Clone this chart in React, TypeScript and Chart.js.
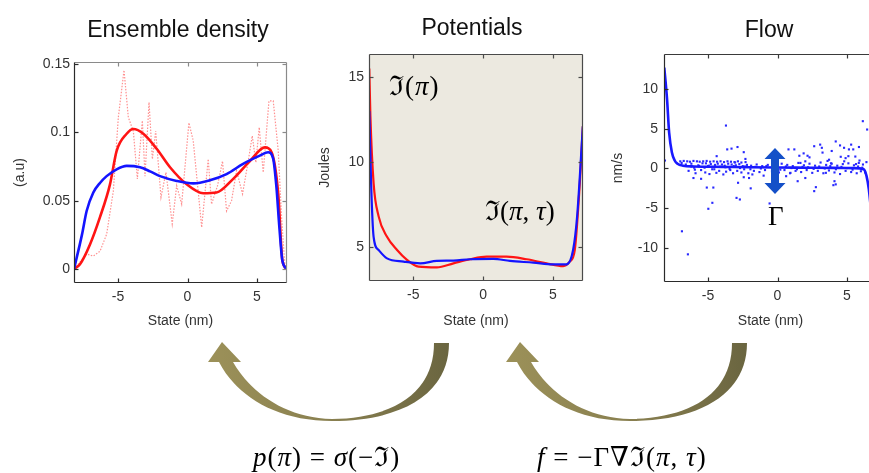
import React, { useEffect, useRef } from 'react';
import { Chart, registerables } from 'chart.js';

Chart.register(...registerables);
Chart.defaults.font.family = "'Liberation Sans', Arial, sans-serif";

// ---------- shared axis ----------
const X_MIN = -8.17;
const X_MAX = 7.16;
const xTicks = [-5, 0, 5];
const xTickLabels = ['-5', '0', '5'];
const xAxisTitle = 'State (nm)';

// ---------- Ensemble density ----------
const densTitle = 'Ensemble density';
const densYTitle = '(a.u)';
const densYTicks = [0, 0.05, 0.1, 0.15];
const densYTickLabels = ['0', '0.05', '0.1', '0.15'];
const densBlueX = [-8.17, -7.6, -7.26, -6.78, -6.3, -5.82, -5.1, -4.38, -3.42, -2.7, -1.98, -0.78, 0.42, 1.61, 2.81, 4.0, 5.2, 5.8, 6.16, 6.4, 6.6, 6.83, 7.16];
const densBlueY = [0, 0.025, 0.0425, 0.056, 0.063, 0.068, 0.073, 0.0755, 0.0745, 0.0715, 0.068, 0.0645, 0.0627, 0.065, 0.0695, 0.077, 0.083, 0.0855, 0.081, 0.06, 0.032, 0.006, 0];
const densRedX = [-8.17, -7.74, -7.02, -6.3, -5.58, -5.1, -4.38, -3.9, -3.18, -2.22, -1.26, -0.06, 1.13, 2.09, 3.29, 4.49, 5.57, 6.05, 6.53, 6.83, 7.16];
const densRedY = [0, 0.0035, 0.018, 0.038, 0.062, 0.0865, 0.099, 0.1025, 0.099, 0.088, 0.0745, 0.062, 0.0555, 0.056, 0.066, 0.079, 0.089, 0.0855, 0.055, 0.006, 0];
const densRawX = [-8.17, -7.26, -6.78, -6.3, -5.82, -5.34, -4.98, -4.57, -4.26, -3.9, -3.61, -3.25, -3.06, -2.77, -2.53, -2.29, -1.91, -1.55, -1.1, -0.78, -0.42, 0.1, 0.41, 1.02, 1.49, 1.73, 2.16, 2.52, 2.81, 3.17, 3.53, 3.96, 4.37, 4.66, 4.92, 5.16, 5.45, 5.86, 6.17, 6.53, 6.77, 7.0, 7.16];
const densRawY = [0, 0.011, 0.0095, 0.013, 0.0255, 0.057, 0.111, 0.1455, 0.111, 0.101, 0.066, 0.1085, 0.068, 0.122, 0.0805, 0.101, 0.0525, 0.0708, 0.033, 0.061, 0.0475, 0.107, 0.094, 0.0305, 0.0805, 0.0475, 0.061, 0.079, 0.0425, 0.05, 0.072, 0.055, 0.079, 0.0975, 0.078, 0.1037, 0.0707, 0.123, 0.123, 0.0865, 0.038, 0.0035, 0];

// ---------- Potentials ----------
const potTitle = 'Potentials';
const potYTitle = 'Joules';
const potYTicks = [5, 10, 15];
const potYTickLabels = ['5', '10', '15'];
const potRedX = [-8.15, -8.07, -7.84, -7.48, -6.88, -6.16, -5.45, -4.62, -3.31, -2.12, -0.93, 0.26, 1.69, 3.12, 4.55, 5.74, 6.21, 6.57, 6.93, 7.15];
const potRedY = [15.5, 12.7, 8.75, 6.8, 5.6, 4.82, 4.24, 3.84, 3.8, 4.04, 4.28, 4.43, 4.43, 4.28, 4.04, 3.88, 4.14, 4.82, 8.75, 12.1];
const potBlueX = [-8.15, -8.02, -7.84, -7.48, -6.88, -5.69, -4.5, -3.31, -2.12, -0.93, 0.74, 1.93, 3.6, 5.02, 5.98, 6.45, 6.74, 7.15];
const potBlueY = [13.0, 8.75, 5.6, 4.82, 4.33, 4.14, 4.04, 4.18, 4.2, 4.28, 4.3, 4.18, 4.08, 3.98, 3.98, 4.82, 6.8, 12.1];

// ---------- Flow ----------
const flowTitle = 'Flow';
const flowYTitle = 'nm/s';
const flowYTicks = [-10, -5, 0, 5, 10];
const flowYTickLabels = ['-10', '-5', '0', '5', '10'];
const flowLineX = [-8.15, -7.95, -7.8, -7.6, -7.4, -7.2, -6.8, -6.0, -4.0, -2.0, 0, 2.0, 4.0, 5.5, 6.2, 6.4, 6.57, 6.8, 7.16];
const flowLineY = [12.7, 8.7, 4.5, 2.0, 1.0, 0.6, 0.35, 0.25, 0.2, 0.15, 0.12, 0.1, 0.08, 0.05, -0.1, -0.9, -2.6, -6.5, -12.5];
const flowDotX = [
  -7.0, -6.75, -6.5, -6.3, -6.05, -5.8, -5.6, -5.35, -5.1, -4.85,
  -4.6, -4.35, -4.1, -3.85, -3.6, -3.35, -3.1, -2.85, -2.6, -2.3,
  -6.6, -6.4, -6.2, -6.0, -5.9, -5.7, -5.5, -5.4, -5.2, -5.0,
  -4.9, -4.8, -4.7, -4.5, -4.4, -4.3, -4.2, -4.0, -3.9, -3.8,
  -3.7, -3.55, -3.4, -3.3, -3.2, -3.0, -2.9, -2.75, -2.6, -2.5,
  -2.4, -2.2, -2.1, -1.9, -1.7, -1.5, -1.3, -1.1, -0.9, -0.7,
  -0.4, -0.2, 0.1, 0.3, 0.5, 0.7, 0.9, 1.1, 1.3, 1.5,
  1.7, 1.9, 2.1, 2.3, 2.5, 2.7, 2.9, 3.1, 3.3, 3.5,
  3.7, 3.9, 4.1, 4.3, 4.5, 4.7, 4.9, 5.1, 5.3, 5.5,
  5.7, 5.85, 6.0, 6.15, 6.3, 6.4, 2.0, 3.6, 4.8, 5.9,
  -6.88, -6.45, -4.98, -4.69, -3.71, -3.62, -3.31, -2.88, -2.43, -2.95,
  -2.71, -2.84, -4.62, -5.09, -4.38, -6.05, -5.5, -2.05, -1.81, -2.31,
  -0.57, 1.21, 1.57, 1.88, 2.16, 2.64, 2.76, 3.07, 3.19, 3.24,
  4.19, 4.79, 5.14, 5.45, 5.86, 6.14, 6.45, 4.02, 4.1, 1.45,
  0.62, 0.93, 2.0, 3.48, 4.55, 4.9, 5.6, 3.71, -8.1, -1.93,
  -2.43, 2.64, 0.79, 5.1, 4.19, 3.9, 4.5, 5.3, 2.3, -1.0,
  -6.2, -5.95, -5.65, -5.25, -4.95, -4.55, -4.15, -3.75, -3.45, -3.15,
  -2.7, -2.35, -1.95, -1.6, -1.2, -0.8, -0.3, 0.2, 0.6, 1.0,
  1.4, 1.8, 2.2, 2.6, 3.0, 3.4, 3.8, 4.2, 4.6, 5.0,
  5.4, 5.8, 6.1, -6.9, -5.15, -3.05, -0.05, 1.65, 3.85, 5.65
];
const flowDotY = [
  0.9, 0.95, 0.9, 0.85, 0.95, 0.9, 0.85, 0.9, 0.95, 0.85,
  0.9, 0.85, 0.9, 0.8, 0.9, 0.85, 0.8, 0.9, 0.75, 0.8,
  0.5, -0.3, 0.6, 0.1, -0.6, 0.4, -0.2, 0.65, -0.5, 0.3,
  -0.7, 0.55, -0.1, 0.45, -0.55, 0.6, -0.3, 0.5, -0.75, 0.35,
  -0.4, 0.6, -0.2, 0.5, -0.6, 0.4, -0.3, 0.55, -0.5, 0.3,
  -0.1, 0.45, -0.6, 0.35, -0.3, 0.5, -0.45, 0.3, -0.2, 0.45,
  -0.35, 0.4, -0.5, 0.6, -0.2, 0.45, -0.6, 0.3, -0.3, 0.7,
  -0.45, 0.4, -0.2, 0.6, -0.55, 0.35, -0.3, 0.75, -0.6, 0.45,
  -0.25, 0.6, -0.5, 0.35, -0.7, 0.55, -0.3, 0.65, -0.45, 0.4,
  -0.6, 0.7, -0.35, 0.5, -0.5, 0.8, 0.9, 0.95, 0.9, 1.0,
  -7.9, -10.8, -5.07, -4.32, 5.4, 2.4, 2.5, 2.7, 2.05, -3.7,
  -3.9, -1.8, -2.4, -2.4, 1.55, -1.2, -1.3, -1.2, -0.75, 1.2,
  -4.4, 2.4, 1.6, 1.9, 1.6, -2.85, -2.35, 3.0, 2.6, 2.0,
  3.4, 2.6, 2.4, 2.4, 2.7, 5.95, 4.9, -2.1, -1.6, -1.6,
  -0.97, -0.55, -1.2, -0.55, 1.47, 1.3, 1.5, 1.1, 1.0, -2.5,
  -1.1, 2.8, 2.4, 1.55, -2.0, 2.2, 2.9, 3.0, 1.4, -0.9,
  0.25, -0.15, 0.3, 0.1, 0.35, -0.1, 0.2, 0.15, -0.05, 0.3,
  0.05, 0.25, -0.1, 0.2, 0.0, 0.3, 0.1, -0.15, 0.25, 0.05,
  -0.1, 0.2, 0.15, -0.05, 0.25, 0.0, 0.3, -0.1, 0.2, 0.05,
  -0.15, 0.25, 0.1, 0.7, 0.65, 0.75, 0.6, 0.7, 0.65, 0.55
];

// ---------- equations / annotations ----------
const eqLeftText = ['p', '(', 'π', ') = ', 'σ', '(−ℑ)'];
const eqRightText = ['f', ' = −Γ∇ℑ(', 'π', ', ', 'τ', ')'];

const TICK_COLOR = '#333333';
const MATH_FONT = "'Liberation Serif', 'DejaVu Serif', 'Times New Roman', serif";

const toPts = (xs: number[], ys: number[]) => xs.map((x, i) => ({ x, y: ys[i] }));
const lookup = (vals: number[], labels: string[]) => (v: any) => {
  const i = vals.findIndex((t) => Math.abs(t - Number(v)) < 1e-9);
  return i >= 0 ? labels[i] : '';
};

const framePlugin = {
  id: 'frame',
  beforeDatasetsDraw(chart: any, _a: any, opts: any) {
    if (!opts || !opts.bg) return;
    const { left, top, right, bottom } = chart.chartArea;
    const ctx = chart.ctx;
    ctx.save();
    ctx.fillStyle = opts.bg;
    ctx.fillRect(left, top, right - left, bottom - top);
    ctx.restore();
  },
  afterDatasetsDraw(chart: any, _a: any, opts: any) {
    const { left, top, right, bottom } = chart.chartArea;
    const ctx = chart.ctx;
    const xs = chart.scales.x;
    const ys = chart.scales.y;
    const L = Math.round(left) + 0.5;
    const R = Math.round(right) - 0.5;
    const T = Math.round(top) + 0.5;
    const B = Math.round(bottom) - 0.5;
    const tl = 4;
    ctx.save();
    ctx.lineWidth = 1.2;
    const seg = (c: string, x1: number, y1: number, x2: number, y2: number) => {
      ctx.strokeStyle = c;
      ctx.beginPath();
      ctx.moveTo(x1, y1);
      ctx.lineTo(x2, y2);
      ctx.stroke();
    };
    for (const t of xs.ticks) {
      const px = Math.round(xs.getPixelForValue(t.value)) + 0.5;
      seg(opts.main, px, B, px, B - tl);
      seg(opts.top, px, T, px, T + tl);
    }
    for (const t of ys.ticks) {
      const py = Math.round(ys.getPixelForValue(t.value)) + 0.5;
      seg(opts.main, L, py, L + tl, py);
      seg(opts.right, R, py, R - tl, py);
    }
    seg(opts.top, L, T, R, T);
    seg(opts.right, R, T, R, B);
    seg(opts.main, L, T, L, B);
    seg(opts.main, L, B, R, B);
    ctx.restore();
  },
};

type PanelSpec = {
  datasets: any[];
  yMin: number;
  yMax: number;
  yTicks: number[];
  yTickLabels: string[];
  yTitle: string;
  yTitlePad: number;
  yAxisW: number;
  yTickPad: number;
  top: number;
  xAxisH: number;
  padRight: number;
  frame: any;
};

function makeConfig(p: PanelSpec): any {
  return {
    type: 'scatter',
    data: { datasets: p.datasets },
    options: {
      responsive: false,
      animation: false,
      events: [],
      layout: { padding: { left: 0, top: p.top, right: p.padRight, bottom: 0 } },
      plugins: {
        legend: { display: false },
        tooltip: { enabled: false },
        frame: p.frame,
      },
      scales: {
        x: {
          type: 'linear',
          min: X_MIN,
          max: X_MAX,
          afterBuildTicks: (s: any) => {
            s.ticks = xTicks.map((v) => ({ value: v }));
          },
          afterFit: (s: any) => {
            s.height = p.xAxisH;
          },
          grid: { display: false, drawTicks: false },
          border: { display: false },
          ticks: {
            padding: 6,
            color: TICK_COLOR,
            font: { size: 14 },
            maxRotation: 0,
            autoSkip: false,
            callback: lookup(xTicks, xTickLabels),
          },
          title: {
            display: true,
            text: xAxisTitle,
            color: TICK_COLOR,
            font: { size: 14 },
            padding: { top: 0, bottom: 10 },
          },
        },
        y: {
          type: 'linear',
          min: p.yMin,
          max: p.yMax,
          afterBuildTicks: (s: any) => {
            s.ticks = p.yTicks.map((v) => ({ value: v }));
          },
          afterFit: (s: any) => {
            s.width = p.yAxisW;
          },
          grid: { display: false, drawTicks: false },
          border: { display: false },
          ticks: {
            padding: p.yTickPad,
            color: TICK_COLOR,
            font: { size: 14 },
            autoSkip: false,
            callback: lookup(p.yTicks, p.yTickLabels),
          },
          title: {
            display: true,
            text: p.yTitle,
            color: TICK_COLOR,
            font: { size: 14 },
            padding: { top: p.yTitlePad, bottom: 0 },
          },
        },
      },
    },
    plugins: [framePlugin],
  };
}

const RED = 'rgb(255,20,20)';
const BLUE = 'rgb(20,20,255)';
const lineDs = (xs: number[], ys: number[], color: string, width: number, extra: any = {}) => ({
  data: toPts(xs, ys),
  showLine: true,
  borderColor: color,
  borderWidth: width,
  pointRadius: 0,
  tension: 0.4,
  cubicInterpolationMode: 'monotone',
  ...extra,
});

const densSpec: PanelSpec = {
  datasets: [
    lineDs(densBlueX, densBlueY, BLUE, 2.6),
    lineDs(densRedX, densRedY, RED, 2.6),
    lineDs(densRawX, densRawY, 'rgba(255,70,70,0.6)', 1.2, {
      tension: 0,
      cubicInterpolationMode: 'default',
      borderDash: [1.5, 1.5],
    }),
  ],
  yMin: -0.0102,
  yMax: 0.1515,
  yTicks: densYTicks,
  yTickLabels: densYTickLabels,
  yTitle: densYTitle,
  yTitlePad: 12,
  yAxisW: 74,
  yTickPad: 4,
  top: 62,
  xAxisH: 57,
  padRight: 13,
  frame: { main: '#2a2a2a', top: '#8a8a8a', right: '#8a8a8a' },
};

const potSpec: PanelSpec = {
  datasets: [
    lineDs(potBlueX, potBlueY, BLUE, 2.2),
    lineDs(potRedX, potRedY, RED, 2.2),
  ],
  yMin: 3.0,
  yMax: 16.35,
  yTicks: potYTicks,
  yTickLabels: potYTickLabels,
  yTitle: potYTitle,
  yTitlePad: 17,
  yAxisW: 69,
  yTickPad: 5,
  top: 54,
  xAxisH: 59,
  padRight: 17,
  frame: { main: '#4a4a4a', top: '#4a4a4a', right: '#4a4a4a', bg: 'rgb(236,233,224)' },
};

const flowSpec: PanelSpec = {
  datasets: [
    lineDs(flowLineX, flowLineY, 'rgb(25,25,255)', 2.6),
    {
      data: toPts(flowDotX, flowDotY),
      showLine: false,
      pointStyle: 'rect',
      pointRadius: 1.5,
      backgroundColor: 'rgb(40,40,255)',
      borderWidth: 0,
    },
  ],
  yMin: -14.28,
  yMax: 14.4,
  yTicks: flowYTicks,
  yTickLabels: flowYTickLabels,
  yTitle: flowYTitle,
  yTitlePad: 10,
  yAxisW: 64,
  yTickPad: 6,
  top: 54,
  xAxisH: 58,
  padRight: 23,
  frame: { main: '#2a2a2a', top: '#3a3a3a', right: '#3a3a3a' },
};

function Panel({ left, width, height, spec }: { left: number; width: number; height: number; spec: PanelSpec }) {
  const ref = useRef<HTMLCanvasElement>(null);
  useEffect(() => {
    const chart = new Chart(ref.current as HTMLCanvasElement, makeConfig(spec));
    return () => chart.destroy();
  }, []);
  return (
    <canvas
      ref={ref}
      width={width}
      height={height}
      style={{ position: 'absolute', left, top: 0, width, height, display: 'block' }}
    />
  );
}

function Title({ cx, top, text }: { cx: number; top: number; text: string }) {
  return (
    <div
      style={{
        position: 'absolute',
        left: cx - 150,
        top,
        width: 300,
        textAlign: 'center',
        font: "23px 'Liberation Sans', Arial, sans-serif",
        lineHeight: '23px',
        color: '#111',
        whiteSpace: 'nowrap',
      }}
    >
      {text}
    </div>
  );
}

function MathText({ left, top, size, parts }: { left: number; top: number; size: number; parts: string[] }) {
  return (
    <div
      style={{
        position: 'absolute',
        left,
        top,
        fontFamily: MATH_FONT,
        fontSize: size,
        lineHeight: `${size}px`,
        letterSpacing: '1px',
        color: '#000',
        whiteSpace: 'pre',
      }}
    >
      {parts.map((s, i) => (i % 2 === 0 ? <i key={i}>{s}</i> : <span key={i}>{s}</span>))}
    </div>
  );
}

const ARROW_PATH =
  'M 434 343 L 449 343 C 449 395 400 421 332 421 C 275 421 236 395 219 362 L 208 362 L 222 342 L 241 362 L 233 362 C 250 392 285 418 332 419 C 395 418 434 392 434 343 Z';

export default function App() {
  return (
    <div
      style={{
        position: 'fixed',
        left: 0,
        top: 0,
        width: 869,
        height: 473,
        overflow: 'hidden',
        background: '#fff',
      }}
    >
      <Panel left={0} width={300} height={340} spec={densSpec} />
      <Panel left={300} width={300} height={340} spec={potSpec} />
      <Panel left={600} width={300} height={340} spec={flowSpec} />

      <Title cx={178} top={18} text={densTitle} />
      <Title cx={472} top={16} text={potTitle} />
      <Title cx={769} top={18} text={flowTitle} />

      <div style={{ position: 'absolute', left: 389, top: 73, fontFamily: MATH_FONT, fontSize: 27, lineHeight: '27px', whiteSpace: 'pre', letterSpacing: '1px' }}>
        ℑ(<i>π</i>)
      </div>
      <div style={{ position: 'absolute', left: 485, top: 198, fontFamily: MATH_FONT, fontSize: 27, lineHeight: '27px', whiteSpace: 'pre' }}>
        ℑ(<i>π</i>, <i>τ</i>)
      </div>
      <div style={{ position: 'absolute', left: 768, top: 203, fontFamily: MATH_FONT, fontSize: 27, lineHeight: '27px' }}>Γ</div>

      <svg width={869} height={473} style={{ position: 'absolute', left: 0, top: 0, pointerEvents: 'none' }}>
        <defs>
          <linearGradient id="olive" x1="0" y1="0" x2="1" y2="0">
            <stop offset="0" stopColor="#9c9159" />
            <stop offset="0.55" stopColor="#877e4f" />
            <stop offset="1" stopColor="#6a6540" />
          </linearGradient>
        </defs>
        <path d={ARROW_PATH} fill="url(#olive)" />
        <g transform="translate(298,0)">
          <path d={ARROW_PATH} fill="url(#olive)" />
        </g>
        <polygon
          points="775,148 785.5,159 779,159 779,183 785.5,183 775,194 764.5,183 771,183 771,159 764.5,159"
          fill="#1450c8"
        />
      </svg>

      <MathText left={253} top={444} size={27} parts={eqLeftText} />
      <MathText left={537} top={444} size={27} parts={eqRightText} />
    </div>
  );
}
